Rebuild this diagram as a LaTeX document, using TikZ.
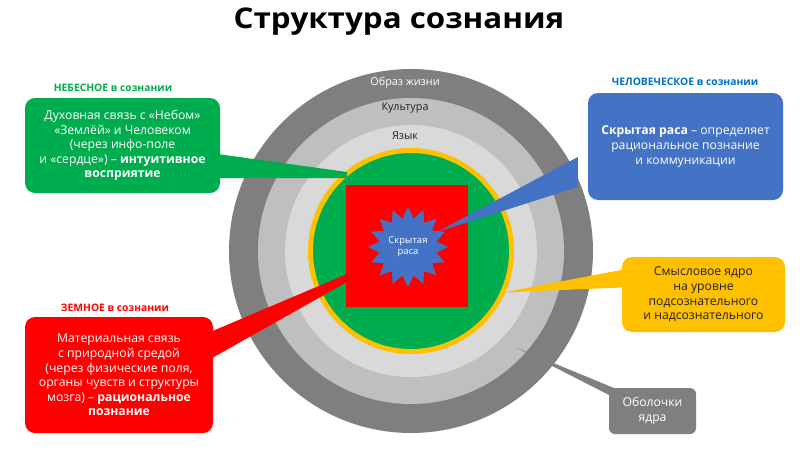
\documentclass[tikz,border=0pt]{standalone}
\usepackage{fontspec}
\setmainfont{Open Sans}
\usetikzlibrary{calc}
\definecolor{heaven}{HTML}{00AD4E}
\definecolor{human}{HTML}{4472C4}
\definecolor{earth}{HTML}{FF0000}
\definecolor{sense}{HTML}{FFC000}
\definecolor{shellA}{HTML}{7F7F7F}
\definecolor{shellB}{HTML}{BFBFBF}
\definecolor{shellC}{HTML}{D9D9D9}
\definecolor{humantag}{HTML}{0070C0}
\definecolor{ink}{HTML}{222222}
\begin{document}
\begin{tikzpicture}[x=1pt, y=-1pt,
	box/.style={rounded corners=10pt, align=center, text=white, inner sep=0pt, font=\fontsize{12.2}{14.6}\selectfont},
	tag/.style={font=\fontsize{10.3}{12}\selectfont\bfseries},
	ringtext/.style={font=\fontsize{10.8}{12}\selectfont}]
	\useasboundingbox (0,0) rectangle (800,450);
	\fill[white] (0,0) rectangle (800,450);
	\node[font=\fontsize{28.5}{32}\selectfont\bfseries\addfontfeature{FakeStretch=1.1}] (title) at (399,22) {Структура сознания};
	% rings of the core
	\coordinate (c) at (411,251);
	\fill[shellA] (c) circle[radius=182pt];
	\fill[shellB] (c) circle[radius=153pt];
	\fill[shellC] (c) circle[radius=126pt];
	\fill[sense] (c) circle[radius=103pt];
	\fill[heaven] (c) circle[radius=98pt];
	\node[ringtext, text=white] (life) at (405,83) {Образ жизни};
	\node[ringtext, text=ink] (culture) at (405,108) {Культура};
	\node[ringtext, text=ink] (lang) at (405,136) {Язык};
	% boxes
	\node[box, fill=heaven, minimum width=195pt, minimum height=95pt] (gbox) at (122.5,145.5)
		{Духовная связь с «Небом»\\«Землёй» и Человеком\\(через инфо-поле\\и «сердце») – \textbf{интуитивное}\\\textbf{восприятие}};
	\node[box, fill=human, minimum width=195pt, minimum height=107pt] (bbox) at (685.5,146.5)
		{\textbf{Скрытая раса} – определяет\\рациональное познание\\и коммуникации};
	\node[box, fill=earth, minimum width=188pt, minimum height=116pt] (rbox) at (119,375)
		{Материальная связь\\с природной средой\\(через физические поля,\\органы чувств и структуры\\мозга) – \textbf{рациональное}\\\textbf{познание}};
	\node[box, fill=sense, text=ink, minimum width=163pt, minimum height=75pt] (ybox) at (703.5,294.5)
		{Смысловое ядро\\на уровне\\подсознательного\\и надсознательного};
	\node[box, fill=shellA, rounded corners=6pt, minimum width=87pt, minimum height=46pt] (obox) at (652.5,411)
		{Оболочки\\ядра};
	\node[tag, text=heaven] (gtag) at (113,88) {НЕБЕСНОЕ в сознании};
	\node[tag, text=humantag] (btag) at (685,82) {ЧЕЛОВЕЧЕСКОЕ в сознании};
	\node[tag, text=earth] (rtag) at (115,308) {ЗЕМНОЕ в сознании};
	% pointers
	\coordinate (gtipA) at (347,172);
	\coordinate (gtipB) at (347,178);
	\coordinate (rtipA) at (347,274);
	\coordinate (rtipB) at (347,282);
	\coordinate (ytip) at (503,292.5);
	\coordinate (otip) at (517,348);
	\fill[heaven] ([xshift=-10pt,yshift=-7.5pt]gbox.east) -- (gtipA) -- (gtipB) -- ([xshift=-10pt,yshift=-32.5pt]gbox.east) -- cycle;
	\fill[earth] ([xshift=-10pt,yshift=40pt]rbox.east) -- (rtipA) -- (rtipB) -- ([xshift=-10pt,yshift=12pt]rbox.east) -- cycle;
	\fill[sense] ([xshift=10pt,yshift=26.5pt]ybox.west) -- (ytip) -- ([xshift=10pt,yshift=7.5pt]ybox.west) -- cycle;
	\fill[shellA] ([xshift=10pt,yshift=21pt]obox.west) -- (otip) -- ([xshift=10pt,yshift=11pt]obox.west) -- cycle;
	% hidden race
	\fill[earth] (346,185) rectangle (468,307);
	\coordinate (s) at (408,247);
	\fill[human] ($(s)+(90:40pt)$) \foreach \k in {1,...,31} {-- ($(s)+(90+\k*11.25:{ifthenelse(isodd(\k),29,40)*1pt})$)} -- cycle;
	\node[align=center, text=white, font=\fontsize{9.5}{11}\selectfont] (core) at (s) {Скрытая\\раса};
	\coordinate (btip) at (437,232);
	\fill[human] ([xshift=-10pt,yshift=-10.5pt]bbox.west) -- (btip) -- ([xshift=-10pt,yshift=-40.5pt]bbox.west) -- cycle;
\end{tikzpicture}
\end{document}
